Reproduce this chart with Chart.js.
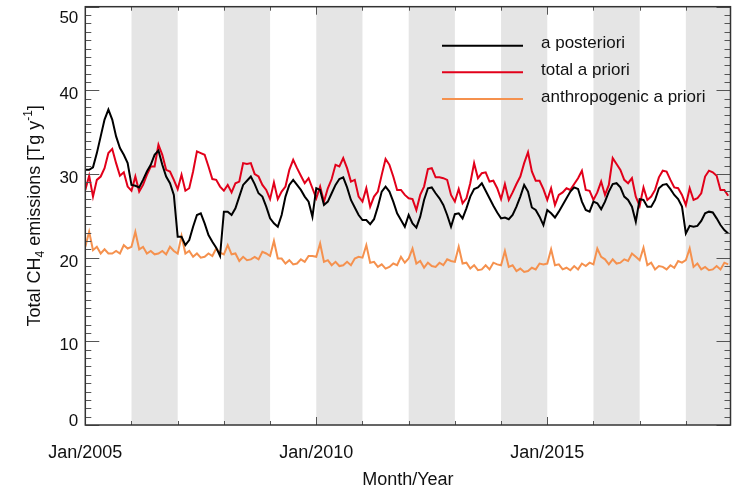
<!DOCTYPE html>
<html><head><meta charset="utf-8">
<script src="https://cdn.jsdelivr.net/npm/chart.js@4.4.1/dist/chart.umd.min.js"></script>
<style>html,body{margin:0;padding:0;background:#fff;}#wrap{width:732px;height:488px;position:relative;}</style>
</head><body><div id="wrap"><canvas id="c" width="732" height="488"></canvas></div>
<script>
// Monthly values, Jan 2005 .. Dec 2018 (Tg/yr)
const posteriori = [
30.5,30.5,30.8,32.5,34.5,36.5,37.7,36.5,34.5,33.1,32.3,31.3,
28.7,28.6,28.4,29.3,30.3,31.1,32.3,32.8,31.1,29.7,28.9,27.5,
22.5,22.5,21.5,22.1,23.7,25.1,25.3,24.1,22.7,21.9,21.2,20.2,
25.5,25.5,25.1,25.9,27.3,28.7,29.2,29.7,28.8,27.7,27.3,26.1,
24.7,24.1,23.7,25.1,27.3,28.7,29.3,28.7,28.1,27.3,26.7,24.9,
28.3,28.1,26.3,26.7,27.7,28.7,29.4,29.6,28.4,26.9,26.0,25.1,
24.5,24.5,24.0,24.6,26.1,27.9,28.5,27.9,26.7,25.3,24.5,23.7,
25.1,24.1,23.6,24.9,26.9,28.3,28.4,27.7,27.1,26.3,25.1,23.7,
25.2,25.3,24.7,25.9,27.3,28.2,28.4,28.9,28.0,27.1,26.2,25.4,
24.7,24.8,24.6,25.1,26.1,27.3,28.7,27.9,26.0,25.7,24.9,23.9,
25.7,25.3,24.8,25.5,26.3,27.1,27.9,28.4,28.2,26.7,25.7,25.5,
26.7,26.5,25.8,26.7,27.9,28.8,28.9,28.4,27.3,26.9,26.1,24.3,
27.0,26.9,26.1,26.1,26.9,28.3,28.7,28.8,28.2,27.5,27.0,26.1,
22.9,23.8,23.7,23.8,24.4,25.3,25.5,25.4,24.7,23.9,23.3,22.9];
const totalPrior = [
28.1,29.8,27.3,29.3,29.7,30.7,32.5,33.0,31.3,29.8,30.2,28.5,
28.0,29.7,27.9,28.7,29.9,30.9,30.9,33.5,32.3,30.5,30.3,29.3,
28.2,29.9,28.0,28.3,30.3,32.7,32.5,32.3,30.9,29.4,29.3,28.5,
28.0,28.7,27.8,28.9,29.1,31.3,31.2,31.3,30.0,29.7,28.7,28.1,
27.0,29.0,27.0,27.9,28.5,30.5,31.7,30.7,29.8,28.9,29.5,28.3,
27.1,28.5,26.7,28.3,29.4,31.1,30.9,31.9,30.7,29.1,29.3,27.3,
26.7,28.3,26.1,27.3,27.9,29.9,31.8,31.1,29.7,28.1,28.1,27.5,
27.1,27.0,25.7,27.5,28.5,30.6,30.7,29.6,29.6,29.5,29.3,27.5,
26.7,28.2,26.5,27.1,28.9,31.3,29.5,30.1,30.2,29.1,29.2,28.3,
27.0,28.8,26.9,27.8,28.8,29.7,31.3,32.6,30.3,29.2,29.2,28.2,
26.9,28.3,26.3,27.5,27.8,28.3,28.1,28.8,29.5,30.4,28.1,28.0,
26.9,27.8,29.1,27.5,28.7,31.9,31.2,30.5,29.3,28.9,29.5,27.3,
26.2,28.4,26.9,27.3,28.1,29.6,30.4,30.3,29.3,28.4,28.3,27.5,
26.3,28.3,26.9,27.1,27.7,29.7,30.4,30.2,29.8,28.1,28.1,27.4];
const anthroPrior = [
21.3,23.1,20.9,21.3,20.5,21.0,20.5,20.5,20.8,20.5,21.5,21.1,
21.3,23.1,21.0,21.3,20.5,20.8,20.4,20.5,20.8,20.4,21.3,20.8,
20.5,22.6,20.5,20.8,20.1,20.5,20.0,20.1,20.5,20.2,21.1,20.6,
20.4,21.5,20.4,20.5,19.6,20.1,19.7,19.8,20.1,19.8,20.7,20.5,
20.2,22.0,19.9,19.9,19.3,19.7,19.2,19.3,19.8,19.5,20.2,20.2,
20.1,21.7,19.5,19.7,19.1,19.5,19.0,19.1,19.5,19.1,19.9,20.1,
20.0,21.5,19.4,19.5,18.9,19.2,18.7,18.9,19.3,19.1,20.1,19.4,
19.9,21.1,19.3,19.6,18.8,19.4,19.0,18.9,19.4,19.1,19.8,19.6,
19.5,21.3,19.3,19.4,18.7,19.1,18.5,18.6,19.1,18.6,19.4,19.2,
19.1,20.8,18.9,19.1,18.4,18.7,18.3,18.4,18.8,18.6,19.3,19.2,
19.3,21.0,19.1,19.2,18.6,18.8,18.5,19.0,18.6,19.3,19.0,19.4,
19.2,21.1,20.1,19.8,19.2,19.8,19.3,19.4,19.8,19.6,20.5,20.1,
19.7,21.2,19.1,19.4,18.6,19.0,18.9,18.6,19.1,18.8,19.6,19.4,
19.7,21.1,18.9,19.3,18.6,18.9,18.5,18.6,19.0,18.6,19.4,19.2];
const seriesNames = ['a posteriori', 'total a priori', 'anthropogenic a priori'];
const yTickValues = [0, 10, 20, 30, 40, 50];
const xTickValues = [0, 60, 120];            // month index
const xTickLabels = ['Jan/2005', 'Jan/2010', 'Jan/2015'];
const yearStarts = [0,12,24,36,48,60,72,84,96,108,120,132,144,156];
const shadedYearStarts = [12,36,60,84,108,132,156];
const xTitle = 'Month/Year';

const COLORS = ['#000000', '#e2001a', '#f5914e'];
const FONT = '"Liberation Sans", Arial, Helvetica, sans-serif';
const TXT = '#111111';

const toPts = arr => arr.map((v, i) => ({x: i, y: v}));

const decor = {
  id: 'decor',
  beforeDatasetsDraw(chart) {
    const {ctx, chartArea: a, scales: {x}} = chart;
    ctx.save();
    ctx.beginPath(); ctx.rect(a.left, a.top, a.right - a.left, a.bottom - a.top); ctx.clip();
    ctx.fillStyle = '#e5e5e5';
    shadedYearStarts.forEach(s => {
      const x0 = x.getPixelForValue(s), x1 = x.getPixelForValue(s + 12);
      ctx.fillRect(x0, a.top, x1 - x0, a.bottom - a.top);
    });
    ctx.restore();
  },
  afterDatasetsDraw(chart) {
    const {ctx, chartArea: a, scales: {x, y}} = chart;
    ctx.save();
    // ticks
    ctx.strokeStyle = '#555'; ctx.lineWidth = 1;
    for (let v = 0; v <= 50; v++) {
      const py = Math.round(y.getPixelForValue(v)) + 0.5;
      const len = v % 10 === 0 ? 14 : 6;
      ctx.beginPath();
      ctx.moveTo(a.left, py); ctx.lineTo(a.left + len, py);
      ctx.moveTo(a.right, py); ctx.lineTo(a.right - len, py);
      ctx.stroke();
    }
    yearStarts.forEach(m => {
      const px = Math.round(x.getPixelForValue(m)) + 0.5;
      const len = xTickValues.includes(m) ? 8 : 4;
      ctx.beginPath();
      ctx.moveTo(px, a.bottom); ctx.lineTo(px, a.bottom - len);
      ctx.moveTo(px, a.top); ctx.lineTo(px, a.top + len);
      ctx.stroke();
    });
    // frame
    ctx.strokeStyle = '#333'; ctx.lineWidth = 1.5;
    ctx.strokeRect(a.left, a.top, a.right - a.left, a.bottom - a.top);
    ctx.restore();
  },
  afterDraw(chart) {
    const {ctx, chartArea: a, scales: {x, y}} = chart;
    ctx.save();
    ctx.fillStyle = TXT;
    // y tick labels
    ctx.font = '17px ' + FONT; ctx.textAlign = 'right'; ctx.textBaseline = 'alphabetic';
    yTickValues.forEach(v => {
      let cy = y.getPixelForValue(v) + 3;
      cy = Math.max(a.top + 10, Math.min(a.bottom - 5, cy));
      ctx.fillText(String(v), a.left - 7, cy + 6.1);
    });
    // x tick labels
    ctx.font = '18px ' + FONT; ctx.textAlign = 'center';
    xTickValues.forEach((v, i) => ctx.fillText(xTickLabels[i], x.getPixelForValue(v), 458));
    // x title
    ctx.fillText(xTitle, (a.left + a.right) / 2, 485);
    // y title with sub/superscripts
    const parts = [
      {t: 'Total CH', f: 18, dy: 0},
      {t: '4', f: 12, dy: 4},
      {t: ' emissions [Tg y', f: 18, dy: 0},
      {t: '-1', f: 12, dy: -8},
      {t: ']', f: 18, dy: 0}
    ];
    let total = 0;
    parts.forEach(p => { ctx.font = p.f + 'px ' + FONT; p.w = ctx.measureText(p.t).width; total += p.w; });
    ctx.translate(39.5, (a.top + a.bottom) / 2);
    ctx.rotate(-Math.PI / 2);
    ctx.textAlign = 'left';
    let cx = -total / 2;
    parts.forEach(p => { ctx.font = p.f + 'px ' + FONT; ctx.fillText(p.t, cx, p.dy); cx += p.w; });
    ctx.restore();
    // legend
    ctx.save();
    const ly = [45.7, 72.3, 99];
    ctx.font = '17px ' + FONT; ctx.fillStyle = TXT; ctx.textAlign = 'left'; ctx.textBaseline = 'alphabetic';
    seriesNames.forEach((n, i) => {
      ctx.strokeStyle = COLORS[i]; ctx.lineWidth = 2;
      ctx.beginPath(); ctx.moveTo(442, ly[i]); ctx.lineTo(523, ly[i]); ctx.stroke();
      ctx.fillText(n, 541, ly[i] + 2.5);
    });
    ctx.restore();
  }
};

new Chart(document.getElementById('c'), {
  type: 'line',
  data: {
    datasets: [
      {label: seriesNames[0], data: toPts(posteriori), borderColor: COLORS[0]},
      {label: seriesNames[1], data: toPts(totalPrior), borderColor: COLORS[1]},
      {label: seriesNames[2], data: toPts(anthroPrior), borderColor: COLORS[2]}
    ]
  },
  options: {
    responsive: false,
    devicePixelRatio: 1,
    animation: false,
    layout: {padding: {left: 85.3, right: 1.5, top: 6.7, bottom: 63}},
    elements: {point: {radius: 0}, line: {borderWidth: 2, tension: 0}},
    plugins: {legend: {display: false}, tooltip: {enabled: false}},
    scales: {
      x: {type: 'linear', min: 0, max: 167.6, display: false},
      y: {type: 'linear', min: 0, max: 50, display: false}
    }
  },
  plugins: [decor]
});
</script></body></html>
